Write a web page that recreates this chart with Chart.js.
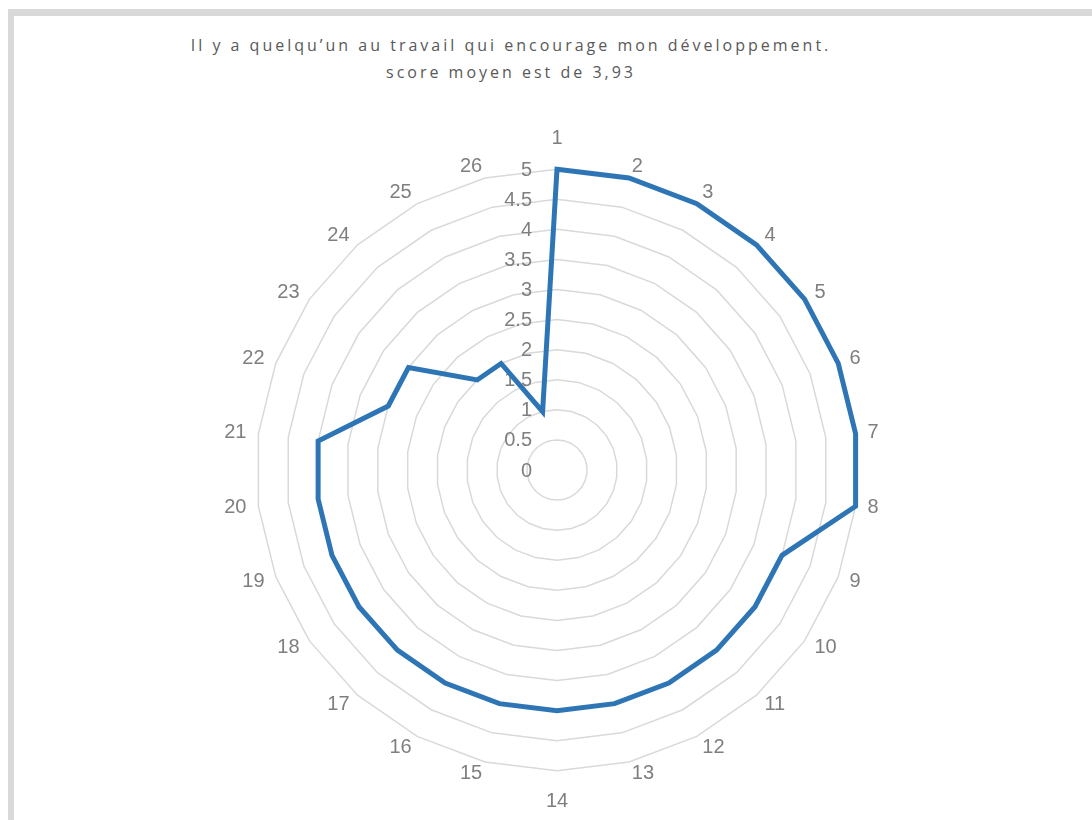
<!DOCTYPE html>
<html lang="fr">
<head>
<meta charset="utf-8">
<title>Il y a quelqu’un au travail qui encourage mon développement.</title>
<script src="https://cdn.jsdelivr.net/npm/chart.js@4.4.1/dist/chart.umd.min.js"></script>
<style>
  html, body { margin: 0; padding: 0; background: #ffffff; overflow: hidden; }
  body { width: 1092px; height: 820px; position: relative; }
  #frame {
    position: absolute; left: 8px; top: 9px; width: 1200px; height: 900px;
    border-left: 6px solid #d9d9d9; border-top: 7px solid #d9d9d9;
    box-sizing: border-box;
  }
  #title {
    position: absolute; left: 0; top: 32px; width: 1022px;
    text-align: center; color: #595959;
    font-family: "Open Sans", "Liberation Sans", sans-serif;
    font-size: 16px; line-height: 27px; letter-spacing: 3px;
  }
  #wrap { position: absolute; left: 22px; top: 123px; width: 1070px; height: 696px; }
</style>
</head>
<body>
<div id="frame"></div>
<div id="title">Il y a quelqu’un au travail qui encourage mon développement.<br>score moyen est de 3,93</div>
<div id="wrap"><canvas id="radar"></canvas></div>
<script>
// Respondents 1 to 26
const categories = ['1','2','3','4','5','6','7','8','9','10','11','12','13',
                    '14','15','16','17','18','19','20','21','22','23','24','25','26'];
// Score given by each respondent (scale 0-5)
const scores = [5, 5, 5, 5, 5, 5, 5, 5, 4, 4, 4, 4, 4,
                4, 4, 4, 4, 4, 4, 4, 4, 3, 3, 2, 2, 1];
// Radial axis range
const scaleMin = 0;
const scaleMax = 5;
const scaleStep = 0.5;

const labelGrey = '#7f7f7f';
const gridGrey = '#d9d9d9';
const lineBlue = '#2e75b6';

// Value labels sit to the left of the vertical axis, under the series line
const radialTickLabels = {
  id: 'radialTickLabels',
  beforeDatasetsDraw(chart) {
    const scale = chart.scales.r;
    const ctx = chart.ctx;
    ctx.save();
    ctx.font = '20px "Liberation Sans", Arial, sans-serif';
    ctx.fillStyle = labelGrey;
    ctx.textAlign = 'right';
    ctx.textBaseline = 'middle';
    scale.ticks.forEach(t => {
      const d = scale.getDistanceFromCenterForValue(t.value);
      ctx.fillText(String(t.value), scale.xCenter - 25, scale.yCenter - d + 1);
    });
    ctx.restore();
  }
};

const lastIndex = categories.length;
new Chart(document.getElementById('radar'), {
  type: 'radar',
  data: {
    labels: categories,
    datasets: [{
      data: scores,
      borderColor: lineBlue,
      borderWidth: 5,
      borderJoinStyle: 'miter',
      backgroundColor: 'rgba(0,0,0,0)',
      fill: false,
      pointRadius: 0,
      pointHoverRadius: 0,
      tension: 0
    }]
  },
  options: {
    responsive: true,
    maintainAspectRatio: false,
    animation: false,
    layout: { padding: { top: 16, bottom: 16, left: 0, right: 0 } },
    plugins: {
      legend: { display: false },
      title: { display: false },
      tooltip: { enabled: false }
    },
    scales: {
      r: {
        min: scaleMin,
        max: scaleMax,
        beginAtZero: true,
        angleLines: { display: false },
        grid: { color: gridGrey, lineWidth: 1.5, circular: false },
        ticks: { display: false, stepSize: scaleStep },
        pointLabels: {
          display: true,
          color: labelGrey,
          // labels straight above/below the centre sit a little further out
          padding: ctx => (ctx.index === 0 || ctx.index * 2 === lastIndex) ? 31 : 12,
          // near-zero line height keeps each label vertically centred on its spoke
          font: { family: '"Liberation Sans", Arial, sans-serif', size: 20, lineHeight: 0.01 }
        }
      }
    }
  },
  plugins: [radialTickLabels]
});
</script>
</body>
</html>
